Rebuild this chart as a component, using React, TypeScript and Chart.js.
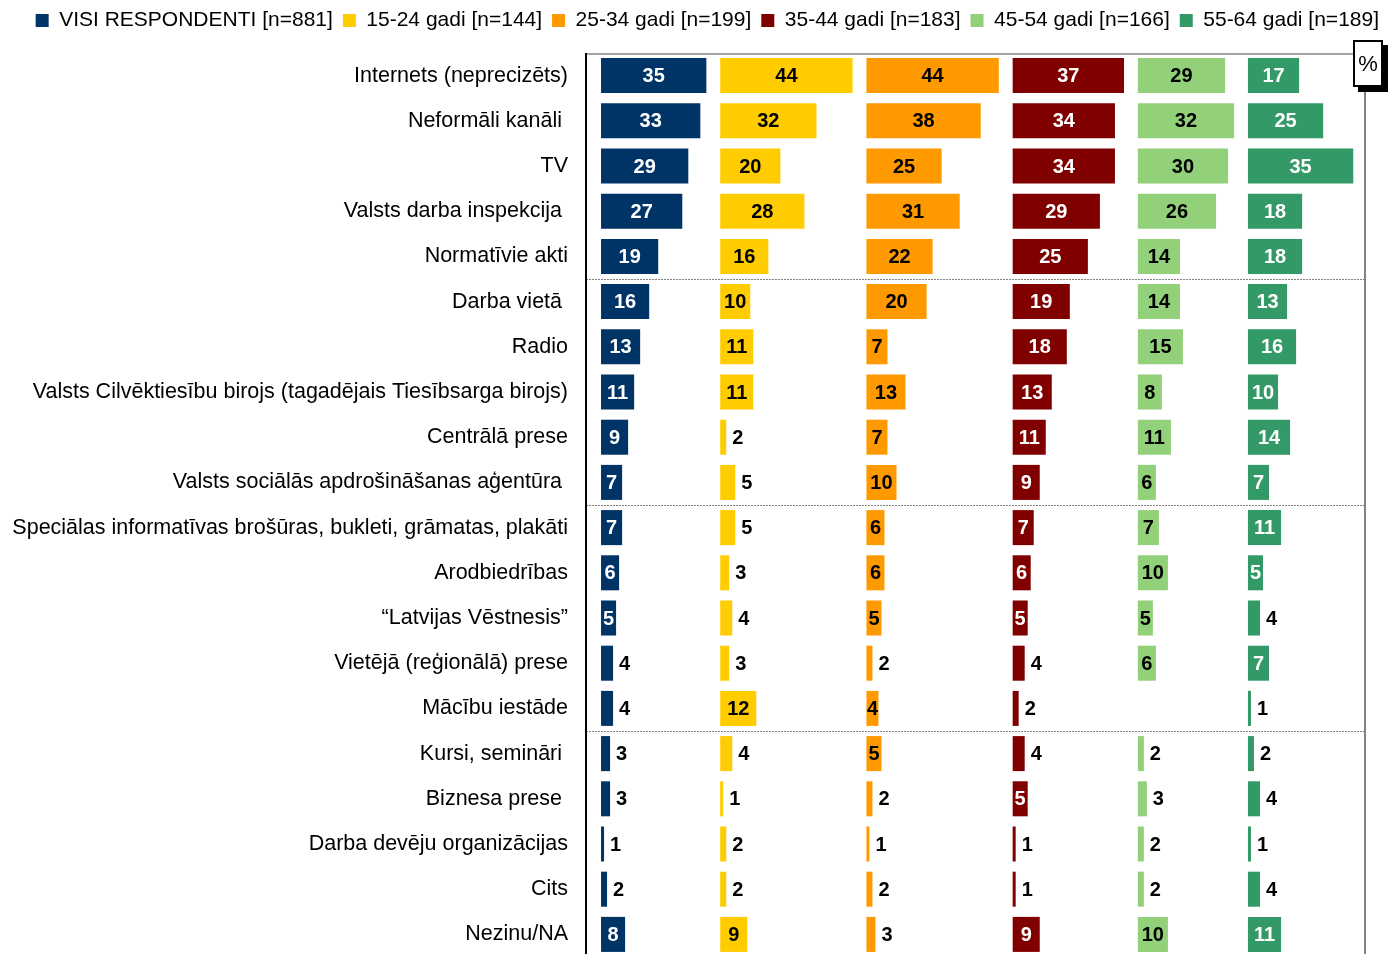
import React, { useEffect, useRef } from 'react';
import { Chart, registerables } from 'chart.js';

Chart.register(...registerables);

// ---------- DATA ----------
const CATEGORIES = [
  'Internets (neprecizēts)',
  'Neformāli kanāli ',
  'TV',
  'Valsts darba inspekcija ',
  'Normatīvie akti',
  'Darba vietā ',
  'Radio',
  'Valsts Cilvēktiesību birojs (tagadējais Tiesībsarga birojs)',
  'Centrālā prese',
  'Valsts sociālās apdrošināšanas aģentūra ',
  'Speciālas informatīvas brošūras, bukleti, grāmatas, plakāti',
  'Arodbiedrības',
  '“Latvijas Vēstnesis”',
  'Vietējā (reģionālā) prese',
  'Mācību iestāde',
  'Kursi, semināri ',
  'Biznesa prese ',
  'Darba devēju organizācijas',
  'Cits',
  'Nezinu/NA',
];

const SERIES_NAMES = [
  'VISI RESPONDENTI [n=881]',
  '15-24 gadi [n=144]',
  '25-34 gadi [n=199]',
  '35-44 gadi [n=183]',
  '45-54 gadi [n=166]',
  '55-64 gadi [n=189]',
];

const VISI_RESPONDENTI = [35, 33, 29, 27, 19, 16, 13, 11, 9, 7, 7, 6, 5, 4, 4, 3, 3, 1, 2, 8];
const AGE_15_24 = [44, 32, 20, 28, 16, 10, 11, 11, 2, 5, 5, 3, 4, 3, 12, 4, 1, 2, 2, 9];
const AGE_25_34 = [44, 38, 25, 31, 22, 20, 7, 13, 7, 10, 6, 6, 5, 2, 4, 5, 2, 1, 2, 3];
const AGE_35_44 = [37, 34, 34, 29, 25, 19, 18, 13, 11, 9, 7, 6, 5, 4, 2, 4, 5, 1, 1, 9];
const AGE_45_54 = [29, 32, 30, 26, 14, 14, 15, 8, 11, 6, 7, 10, 5, 6, null, 2, 3, 2, 2, 10];
const AGE_55_64 = [17, 25, 35, 18, 18, 13, 16, 10, 14, 7, 11, 5, 4, 7, 1, 2, 4, 1, 4, 11];

const SERIES: (number | null)[][] = [
  VISI_RESPONDENTI,
  AGE_15_24,
  AGE_25_34,
  AGE_35_44,
  AGE_45_54,
  AGE_55_64,
];

// ---------- STYLE ----------
const COLORS = ['#003366', '#FFCC00', '#FF9900', '#800000', '#92D07A', '#339966'];
const INSIDE_LABEL_COLORS = ['#ffffff', '#000000', '#000000', '#ffffff', '#000000', '#ffffff'];
const INSIDE_MIN = [5, 6, 4, 5, 5, 5];
const PANEL_GAP = 4.6;
const X_MIN = -5;
const X_MAX = 253.9;
const GROUP_SIZE = 5;
const FONT = "'Liberation Sans', Arial, sans-serif";

const PANEL_MAX = SERIES.map((s) => Math.max(...(s.filter((v) => v != null) as number[])));
const OFFSETS: number[] = [];
PANEL_MAX.forEach((_, i) => {
  OFFSETS.push(i === 0 ? 0 : OFFSETS[i - 1] + PANEL_MAX[i - 1] + PANEL_GAP);
});

const framePlugin = {
  id: 'frameAndLabels',
  beforeDatasetsDraw(chart: any) {
    const { ctx, chartArea: a } = chart;
    const y = chart.scales.y;
    ctx.save();
    // dotted group separators
    ctx.strokeStyle = '#808080';
    ctx.lineWidth = 1;
    ctx.setLineDash([2, 1]);
    for (let i = GROUP_SIZE; i < CATEGORIES.length; i += GROUP_SIZE) {
      const yy = Math.round((y.getPixelForValue(i - 1) + y.getPixelForValue(i)) / 2) + 0.5;
      ctx.beginPath();
      ctx.moveTo(a.left, yy);
      ctx.lineTo(a.right, yy);
      ctx.stroke();
    }
    ctx.setLineDash([]);
    ctx.lineWidth = 2;
    // top border
    ctx.strokeStyle = '#a6a6a6';
    ctx.beginPath();
    ctx.moveTo(a.left, a.top + 1);
    ctx.lineTo(a.right, a.top + 1);
    ctx.stroke();
    // right border
    ctx.strokeStyle = '#808080';
    ctx.beginPath();
    ctx.moveTo(a.right, a.top);
    ctx.lineTo(a.right, a.bottom);
    ctx.stroke();
    // left axis line
    ctx.strokeStyle = '#000000';
    ctx.beginPath();
    ctx.moveTo(a.left, a.top);
    ctx.lineTo(a.left, a.bottom);
    ctx.stroke();
    ctx.restore();
  },
  afterDatasetsDraw(chart: any) {
    const { ctx } = chart;
    ctx.save();
    ctx.font = `bold 20px ${FONT}`;
    ctx.textBaseline = 'middle';
    chart.data.datasets.forEach((ds: any, di: number) => {
      const meta = chart.getDatasetMeta(di);
      meta.data.forEach((bar: any, i: number) => {
        const v = SERIES[di][i];
        if (v == null) return;
        const { x, base, y } = bar.getProps(['x', 'base', 'y'], true);
        if (v >= INSIDE_MIN[di]) {
          ctx.textAlign = 'center';
          ctx.fillStyle = INSIDE_LABEL_COLORS[di];
          ctx.fillText(String(v), (x + base) / 2, y + 1);
        } else {
          ctx.textAlign = 'left';
          ctx.fillStyle = '#000000';
          ctx.fillText(String(v), x + 6, y + 1);
        }
      });
    });
    ctx.restore();
  },
};

export default function App() {
  const ref = useRef<HTMLCanvasElement | null>(null);

  useEffect(() => {
    if (!ref.current) return;
    Chart.defaults.font.family = FONT;
    const chart = new Chart(ref.current, {
      type: 'bar',
      data: {
        labels: CATEGORIES,
        datasets: SERIES.map((s, i) => ({
          label: SERIES_NAMES[i],
          data: s.map((v) => (v == null ? null : [OFFSETS[i], OFFSETS[i] + v])) as any,
          backgroundColor: COLORS[i],
          borderWidth: 0,
          grouped: false,
          categoryPercentage: 1,
          barPercentage: 0.775,
        })),
      },
      options: {
        indexAxis: 'y',
        responsive: false,
        animation: false,
        events: [],
        layout: { padding: { left: 0, right: 0, top: 0, bottom: 3 } },
        scales: {
          x: {
            type: 'linear',
            position: 'top',
            min: X_MIN,
            max: X_MAX,
            ticks: { display: false },
            grid: { display: false, drawTicks: false },
            border: { display: false },
            afterFit: (s: any) => {
              s.height = 12;
              s.paddingLeft = 0;
              s.paddingRight = 0;
            },
          },
          y: {
            type: 'category',
            offset: true,
            grid: { display: false, drawTicks: false },
            border: { display: false },
            ticks: {
              autoSkip: false,
              padding: 18,
              color: '#000000',
              font: { size: 21.5, family: FONT },
            },
            afterFit: (s: any) => {
              s.width = 586;
              s.paddingTop = 0;
              s.paddingBottom = 0;
            },
          },
          yRight: {
            type: 'linear',
            position: 'right',
            display: true,
            ticks: { display: false },
            grid: { display: false, drawTicks: false },
            border: { display: false },
            afterFit: (s: any) => {
              s.width = 24;
              s.paddingTop = 0;
              s.paddingBottom = 0;
            },
          },
        },
        plugins: {
          legend: {
            position: 'top',
            align: 'end',
            labels: {
              boxWidth: 13,
              boxHeight: 13,
              padding: 10,
              color: '#000000',
              font: { size: 21, family: FONT },
            },
          },
          tooltip: { enabled: false },
        },
      } as any,
      plugins: [framePlugin],
    });
    return () => chart.destroy();
  }, []);

  return (
    <div
      style={{
        position: 'fixed',
        left: 0,
        top: 0,
        width: 1389,
        height: 954,
        overflow: 'hidden',
        background: '#ffffff',
      }}
    >
      <canvas ref={ref} width={1389} height={960} style={{ display: 'block' }} />
      <div
        style={{
          position: 'absolute',
          left: 1353,
          top: 40,
          width: 30,
          height: 47,
          boxSizing: 'border-box',
          border: '2px solid #000',
          background: '#fff',
          boxShadow: '5px 5px 0 #000',
          display: 'flex',
          alignItems: 'center',
          justifyContent: 'center',
          fontFamily: FONT,
          fontSize: 22,
          color: '#000',
        }}
      >
        %
      </div>
    </div>
  );
}
